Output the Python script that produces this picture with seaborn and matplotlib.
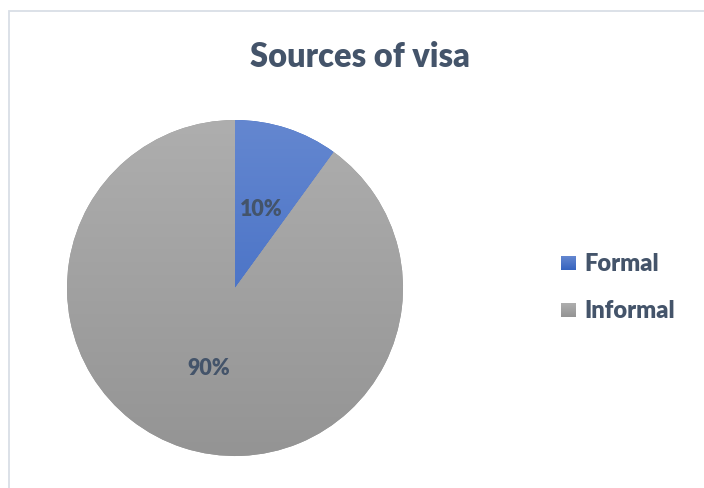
import numpy as np
import matplotlib
matplotlib.use("Agg")
import matplotlib.pyplot as plt
from matplotlib.colors import LinearSegmentedColormap
from matplotlib.patches import Rectangle
import seaborn as sns

# Data
categories = ["Formal", "Informal"]
shares = [10, 90]

# Style
sns.set_theme(style="white")
plt.rcParams["font.family"] = ["Lato", "DejaVu Sans"]
text_color = "#44546A"
weight = "heavy"

# Top / bottom tones of the vertical fill for each slice
tones = {
    "Formal": ("#6487D0", "#3563BF"),
    "Informal": ("#AEAEAE", "#949494"),
}

fig = plt.figure(figsize=(7.04, 4.89), dpi=100)
fig.patch.set_facecolor("white")

# Chart-area frame
fig.patches.append(Rectangle((8.5 / 704, -0.05), 1.2, (489 - 11.5) / 489 + 0.05,
                             transform=fig.transFigure, fill=False,
                             edgecolor="#D9DEE6", linewidth=1.3))

W, H = 704, 489
cx, cy, r = 235, 289, 168
ax = fig.add_axes([(cx - r) / W, (H - cy - r) / H, 2 * r / W, 2 * r / H])

wedges, _, autotexts = ax.pie(
    shares, labels=None, startangle=90, counterclock=False,
    autopct="%d%%", pctdistance=0.5, radius=1,
    wedgeprops=dict(linewidth=0),
    textprops=dict(color=text_color, fontsize=15.5, fontweight=weight),
)
ax.set_xlim(-1, 1)
ax.set_ylim(-1, 1)
ax.set_aspect("equal")
ax.axis("off")

# Vertical gradient fill clipped to each wedge
grad = np.linspace(0, 1, 256).reshape(-1, 1)
for w, name in zip(wedges, categories):
    top, bottom = tones[name]
    cmap = LinearSegmentedColormap.from_list(name, [top, bottom])
    w.set_facecolor(bottom)
    img = ax.imshow(grad, cmap=cmap, extent=(-1, 1, -1, 1), origin="upper",
                    aspect="auto", zorder=w.get_zorder() + 0.1, interpolation="bilinear")
    img.set_clip_path(w)
for t in autotexts:
    t.set_zorder(5)

# Legend
legend_items = [(categories[0], 264), (categories[1], 311)]
for name, ypix in legend_items:
    top, bottom = tones[name]
    lax = fig.add_axes([561 / W, (H - ypix - 7) / H, 15 / W, 14 / H])
    lax.imshow(grad, cmap=LinearSegmentedColormap.from_list(name + "_l", [top, bottom]),
               extent=(0, 1, 0, 1), aspect="auto")
    lax.axis("off")
    fig.text(584 / W, 1 - ypix / H, name, color=text_color, fontsize=17,
             fontweight=weight, va="center", ha="left")

fig.text(360 / W, 1 - 57 / H, "Sources of visa", color=text_color, fontsize=23.5,
         fontweight=weight, ha="center", va="center")

fig.savefig("out.png", dpi=100, facecolor="white")
